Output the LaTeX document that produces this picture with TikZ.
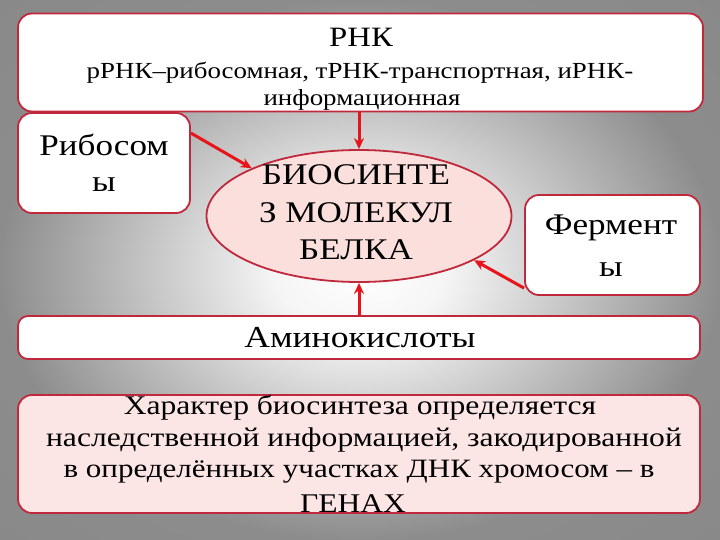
\documentclass[tikz,border=0pt]{standalone}
\usepackage{fontspec}
\setmainfont{Liberation Serif}[FakeStretch=1.17]
\usetikzlibrary{shapes.geometric,arrows.meta}
\definecolor{bord}{HTML}{C0283C}
\definecolor{arr}{HTML}{E8141C}
\definecolor{pinkA}{HTML}{FADFDD}
\definecolor{pinkB}{HTML}{FCE6E5}
\pgfdeclareradialshading{bgshade}{\pgfpoint{0bp}{0bp}}{%
  color(0bp)=(white); color(6bp)=(white!96!black); color(25bp)=(black!45!white); color(50bp)=(black!48!white)}
\tikzset{
  box/.style={draw=bord, line width=1.8pt, fill=white, rounded corners=14pt, inner sep=0pt},
  txt/.style={inner sep=0pt, text=black},
  conn/.style={draw=arr, line width=3pt, -{Stealth[length=11pt,width=10pt]}},
}
\newcommand{\fs}[1]{\fontsize{#1}{#1}\selectfont}
\begin{document}
\begin{tikzpicture}[x=1pt,y=-1pt]
\useasboundingbox (0,0) rectangle (720,540);
\shade[shading=bgshade] (0,0) rectangle (720,540);
% boxes
\node[box, minimum width=685pt, minimum height=98pt] (rnk) at (360.5,62.5) {};
\node[box, minimum width=172pt, minimum height=100pt] (rib) at (104,163) {};
\node[box, minimum width=175pt, minimum height=100pt] (ferm) at (612.5,245) {};
\node[ellipse, draw=bord, line width=1.8pt, fill=pinkA, minimum width=305pt, minimum height=132pt, inner sep=0pt] (bio) at (359,216) {};
\node[box, rounded corners=10pt, minimum width=682pt, minimum height=43pt] (amino) at (359,337.5) {};
\node[box, fill=pinkB, minimum width=682pt, minimum height=118pt] (gen) at (359,454) {};
% texts
\node[txt, font=\fs{28}] (t1) at (361,37) {РНК};
\node[txt, font=\fs{23}] (t2) at (360,73) {рРНК–рибосомная, тРНК-транспортная, иРНК-};
\node[txt, font=\fs{23}] (t3) at (362,100) {информационная};
\node[txt, font=\fs{30}] (r1) at (104,145) {Рибосом};
\node[txt, font=\fs{30}] (r2) at (104,185) {ы};
\node[txt, font=\fs{30}] (f1) at (611,228) {Фермент};
\node[txt, font=\fs{30}] (f2) at (611,270) {ы};
\node[txt, font=\fs{30}] (b1) at (356,175) {БИОСИНТЕ};
\node[txt, font=\fs{30}] (b2) at (356,213) {З МОЛЕКУЛ};
\node[txt, font=\fs{30}] (b3) at (356,250) {БЕЛКА};
\node[txt, font=\fs{30.5}] (a1) at (360,338) {Аминокислоты};
\node[txt, font=\fs{27}] (g1) at (360,408) {Характер биосинтеза определяется};
\node[txt, font=\fs{27}] (g2) at (364,440) {наследственной информацией, закодированной};
\node[txt, font=\fs{26.5}] (g3) at (359,472) {в определённых участках ДНК хромосом – в};
\node[txt, font=\fs{27}] (g4) at (353,504) {ГЕНАХ};
% connectors
\draw[conn] (rnk.south -| bio.north) -- (bio.north);
\draw[conn] (rib.19) -- (bio.156);
\draw[conn] (ferm.206) -- (bio.339);
\draw[conn] (amino.north -| bio.south) -- (bio.south);
\end{tikzpicture}
\end{document}
